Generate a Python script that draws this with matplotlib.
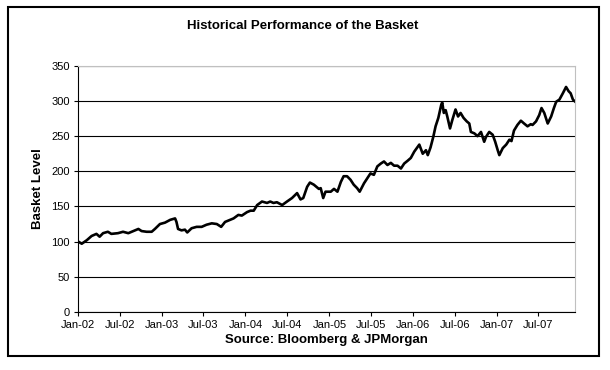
import matplotlib
matplotlib.use("Agg")
import matplotlib.pyplot as plt
import matplotlib.dates as mdates
import pandas as pd
from matplotlib.patches import Rectangle

plt.rcParams["font.family"] = ["Liberation Sans", "DejaVu Sans"]

# basket level
dates = [
    "2002-01-02", "2002-01-17", "2002-02-08", "2002-03-01", "2002-03-22", "2002-04-05",
    "2002-04-20", "2002-05-11", "2002-05-26", "2002-06-24", "2002-07-16", "2002-08-08",
    "2002-08-30", "2002-09-21", "2002-10-05", "2002-10-27", "2002-11-18", "2002-12-02",
    "2002-12-24", "2003-01-15", "2003-02-07", "2003-02-28", "2003-03-06", "2003-03-13",
    "2003-03-28", "2003-04-12", "2003-04-22", "2003-05-11", "2003-06-02", "2003-06-24",
    "2003-07-15", "2003-08-07", "2003-08-29", "2003-09-17", "2003-10-04", "2003-10-26",
    "2003-11-10", "2003-12-01", "2003-12-16", "2004-01-08", "2004-01-23", "2004-02-06",
    "2004-02-21", "2004-03-13", "2004-04-04", "2004-04-18", "2004-05-02", "2004-05-17",
    "2004-06-09", "2004-06-30", "2004-07-22", "2004-08-13", "2004-08-28", "2004-09-09",
    "2004-09-26", "2004-10-08", "2004-10-25", "2004-11-16", "2004-11-24", "2004-12-05",
    "2004-12-15", "2005-01-07", "2005-01-21", "2005-02-05", "2005-02-20", "2005-03-04",
    "2005-03-19", "2005-04-03", "2005-04-17", "2005-05-02", "2005-05-13", "2005-06-01",
    "2005-06-15", "2005-06-29", "2005-07-14", "2005-07-29", "2005-08-13", "2005-08-27",
    "2005-09-11", "2005-09-26", "2005-10-10", "2005-10-25", "2005-11-09", "2005-11-23",
    "2005-12-08", "2005-12-22", "2006-01-06", "2006-01-21", "2006-01-28", "2006-02-12",
    "2006-02-26", "2006-03-06", "2006-03-18", "2006-03-30", "2006-04-09", "2006-04-21",
    "2006-05-04", "2006-05-08", "2006-05-15", "2006-05-23", "2006-05-30", "2006-06-11",
    "2006-06-21", "2006-07-05", "2006-07-16", "2006-07-27", "2006-08-09", "2006-08-23",
    "2006-09-03", "2006-09-10", "2006-09-25", "2006-10-09", "2006-10-24", "2006-11-07",
    "2006-11-15", "2006-11-29", "2006-12-14", "2006-12-25", "2007-01-05", "2007-01-12",
    "2007-01-27", "2007-02-11", "2007-02-25", "2007-03-06", "2007-03-17", "2007-04-01",
    "2007-04-16", "2007-04-30", "2007-05-15", "2007-05-29", "2007-06-06", "2007-06-21",
    "2007-07-05", "2007-07-15", "2007-07-27", "2007-08-11", "2007-08-26", "2007-09-07",
    "2007-09-17", "2007-10-01", "2007-10-16", "2007-10-30", "2007-11-10", "2007-11-19",
    "2007-11-29", "2007-12-09",
]
levels = [
    100, 97, 102, 108, 111, 107,
    112, 114, 111, 112, 114, 112,
    115, 118, 115, 114, 114, 118,
    125, 127, 131, 133, 128, 118,
    116, 117, 113, 119, 121, 121,
    124, 126, 125, 121, 128, 131,
    133, 138, 137, 142, 144, 144,
    152, 157, 155, 157, 155, 156,
    152, 157, 162, 169, 160, 162,
    178, 184, 181, 175, 176, 162,
    171, 171, 175, 171, 185, 193,
    193, 188, 181, 176, 171, 183,
    190, 197, 195, 207, 211, 214,
    209, 212, 208, 208, 204, 211,
    215, 219, 228, 235, 238, 225,
    230, 223, 234, 249, 264, 276,
    295, 298, 283, 287, 278, 261,
    273, 288, 278, 283, 276, 271,
    268, 256, 254, 250, 256, 242,
    249, 256, 252, 242, 230, 223,
    233, 238, 245, 243, 258, 266,
    272, 268, 264, 267, 266, 271,
    280, 290, 283, 268, 278, 290,
    299, 302, 311, 320, 314, 311,
    302, 299,
]
tick_dates = pd.date_range("2002-01-01", "2007-07-01", freq="6MS")
y_ticks = list(range(0, 351, 50))

x = pd.to_datetime(dates)

fig = plt.figure(figsize=(6.1, 3.7), dpi=100)
ax = fig.add_axes([0.128, 0.157, 0.815, 0.665])

ax.plot(x, levels, color="black", linewidth=1.9)

ax.set_ylim(0, 350)
ax.set_yticks(y_ticks)
ax.set_xlim(x[0], x[-1])
ax.set_xticks(tick_dates)
ax.xaxis.set_major_formatter(mdates.DateFormatter("%b-%y"))
ax.yaxis.grid(True, color="black", linewidth=0.8)
ax.set_axisbelow(True)
ax.tick_params(labelsize=8, length=3, width=0.8, direction="out", pad=3)

for side in ["top", "right"]:
    ax.spines[side].set_color("#c0c0c0")
for side in ["left", "bottom"]:
    ax.spines[side].set_color("black")
    ax.spines[side].set_linewidth(0.8)

ax.set_ylabel("Basket Level", fontsize=9.5, fontweight="bold", labelpad=5)
ax.set_xlabel("Source: Bloomberg & JPMorgan", fontsize=9.5, fontweight="bold", labelpad=3)
fig.text(0.497, 0.93, "Historical Performance of the Basket",
         fontsize=9.5, fontweight="bold", ha="center", va="center")

fig.patches.append(Rectangle((0.013, 0.038), 0.969, 0.943, transform=fig.transFigure,
                             fill=False, edgecolor="black", linewidth=1.5))

fig.savefig("out.png", dpi=100)
